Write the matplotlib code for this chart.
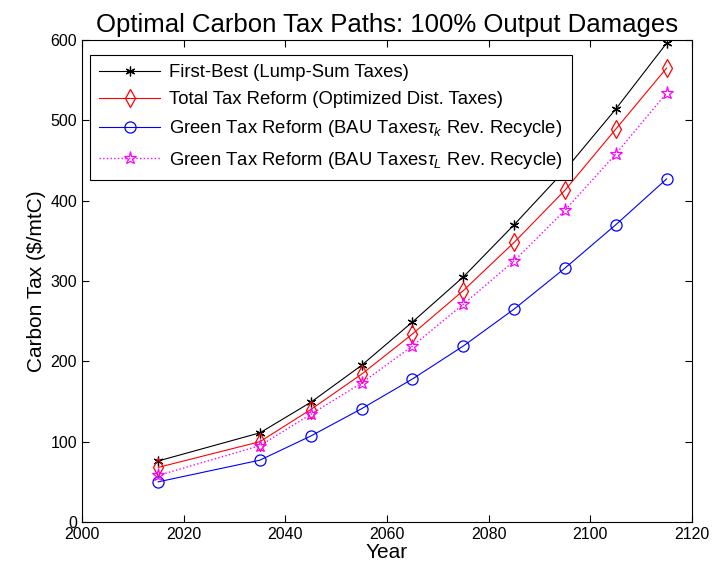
import matplotlib
matplotlib.use('Agg')
import matplotlib.pyplot as plt

plt.rcParams['font.family'] = ['Liberation Sans', 'DejaVu Sans']
plt.rcParams['mathtext.fontset'] = 'custom'
plt.rcParams['mathtext.rm'] = 'Liberation Sans'
plt.rcParams['mathtext.it'] = 'Liberation Sans:italic'

years = [2015, 2035, 2045, 2055, 2065, 2075, 2085, 2095, 2105, 2115]
first_best = [76, 111, 149, 195, 249, 305, 370, 438, 514, 596]
total_reform = [68, 100, 140, 184, 234, 288, 348, 413, 489, 565]
green_k = [50, 77, 107, 141, 178, 219, 265, 316, 370, 427]
green_L = [58, 95, 134, 173, 219, 271, 325, 388, 458, 534]

labels = ['First-Best (Lump-Sum Taxes)',
          'Total Tax Reform (Optimized Dist. Taxes)',
          r'Green Tax Reform (BAU Taxes$\tau_k$ Rev. Recycle)',
          r'Green Tax Reform (BAU Taxes$\tau_L$ Rev. Recycle)']

fig = plt.figure(figsize=(7.16, 5.77), dpi=100)
ax = fig.add_axes([0.1145, 0.0953, 0.852, 0.8354])

ax.plot(years, first_best, 'k-', marker=(6, 2, 0), ms=7, mew=0.9, lw=0.8, label=labels[0])
ax.plot(years, total_reform, 'r-', marker='d', ms=9, mfc='none', mew=0.9, lw=0.8, label=labels[1])
ax.plot(years, green_k, 'b-', marker='o', ms=8, mfc='none', mew=0.9, lw=0.8, label=labels[2])
ax.plot(years, green_L, color='magenta', ls=':', marker='*', ms=9.5, mfc='none', mew=0.9, lw=1.0, label=labels[3])

ax.set_xlim(2000, 2120)
ax.set_ylim(0, 600)
ax.set_xticks(range(2000, 2121, 20))
ax.set_yticks(range(0, 601, 100))
ax.tick_params(direction='in', top=True, right=True, length=5, labelsize=11.5)
for s in ax.spines.values():
    s.set_linewidth(0.8)

ax.set_title('Optimal Carbon Tax Paths: 100% Output Damages', fontsize=18.5, pad=6)
ax.set_xlabel('Year', fontsize=15, labelpad=1)
ax.set_ylabel('Carbon Tax ($/mtC)', fontsize=15, labelpad=3)

leg = ax.legend(loc='upper left', bbox_to_anchor=(0.013, 0.969), borderaxespad=0,
                fontsize=13.3, frameon=True, fancybox=False, edgecolor='black',
                framealpha=1, handlelength=3.3, labelspacing=0.55, borderpad=0.5,
                handletextpad=0.5)
leg.get_frame().set_linewidth(0.8)

fig.savefig('out.png', dpi=100)
